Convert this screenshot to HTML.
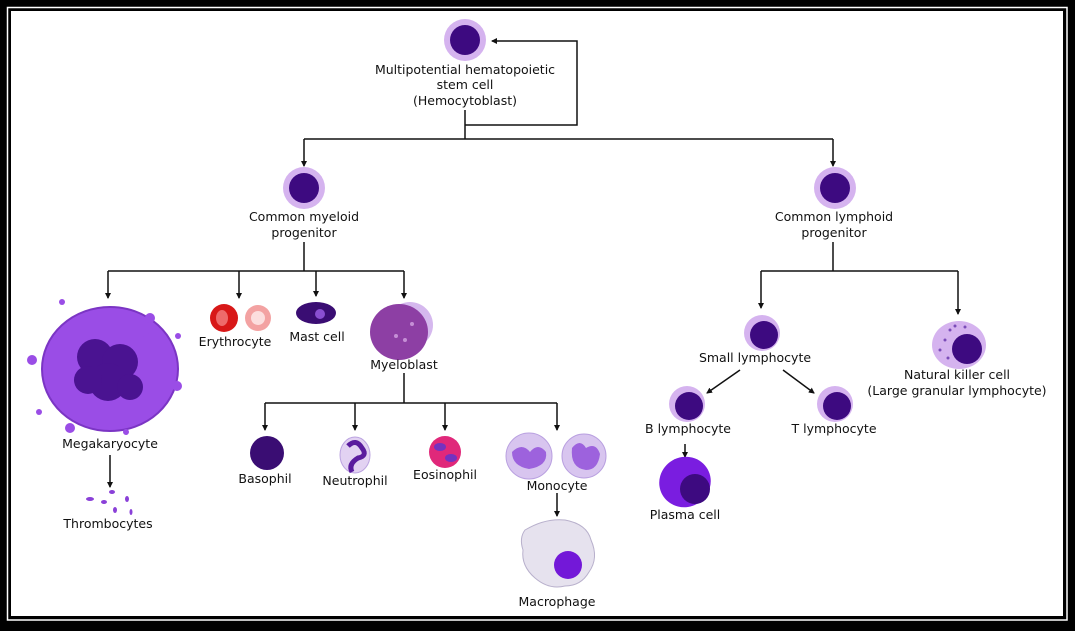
<!DOCTYPE html>
<html><head><meta charset="utf-8"><style>
html,body{margin:0;padding:0;background:#000;}
svg{display:block}
text{font-family:"DejaVu Sans","Liberation Sans",sans-serif;font-size:12.5px;fill:#111;text-anchor:middle}
</style></head><body>
<svg width="1075" height="631" viewBox="0 0 1075 631" xmlns="http://www.w3.org/2000/svg">
<defs>
<marker id="a" markerWidth="6" markerHeight="6" refX="5" refY="3" orient="auto" markerUnits="userSpaceOnUse"><path d="M0,0 L6,3 L0,6 z" fill="#111"/></marker>
</defs>
<rect x="0" y="0" width="1075" height="631" fill="#000"/>
<rect x="7.5" y="7.5" width="1059.5" height="612.5" fill="none" stroke="#fff" stroke-width="1.5"/>
<rect x="11" y="11" width="1052" height="605" fill="#fff"/>
<g stroke="#111" stroke-width="1.5" fill="none">
<path d="M465,110 V139 M304,139 H833"/>
<path d="M465,125 H577 V41 H492" marker-end="url(#a)"/>
<path d="M304,139 V166" marker-end="url(#a)"/>
<path d="M833,139 V166" marker-end="url(#a)"/>
<path d="M304,242 V271 M108,271 H404"/>
<path d="M108,271 V298" marker-end="url(#a)"/>
<path d="M239,271 V298" marker-end="url(#a)"/>
<path d="M316,271 V296" marker-end="url(#a)"/>
<path d="M404,271 V298" marker-end="url(#a)"/>
<path d="M110,455 V487" marker-end="url(#a)"/>
<path d="M404,373 V403 M265,403 H557"/>
<path d="M265,403 V430" marker-end="url(#a)"/>
<path d="M355,403 V430" marker-end="url(#a)"/>
<path d="M445,403 V430" marker-end="url(#a)"/>
<path d="M557,403 V430" marker-end="url(#a)"/>
<path d="M557,493 V516" marker-end="url(#a)"/>
<path d="M833,242 V271 M761,271 H958"/>
<path d="M761,271 V308" marker-end="url(#a)"/>
<path d="M958,271 V314" marker-end="url(#a)"/>
<path d="M740,370 L707,393" marker-end="url(#a)"/>
<path d="M783,370 L814,393" marker-end="url(#a)"/>
<path d="M685,444 V457" marker-end="url(#a)"/>
</g>
<circle cx="465" cy="40" r="21" fill="#d5b3ef"/><circle cx="465" cy="40" r="15" fill="#3d0a80"/>
<text x="465" y="74">Multipotential hematopoietic</text><text x="465" y="89">stem cell</text><text x="465" y="105">(Hemocytoblast)</text>
<circle cx="304" cy="188" r="21" fill="#d5b3ef"/><circle cx="304" cy="188" r="15" fill="#3d0a80"/>
<text x="304" y="221">Common myeloid</text><text x="304" y="237">progenitor</text>
<circle cx="835" cy="188" r="21" fill="#d5b3ef"/><circle cx="835" cy="188" r="15" fill="#3d0a80"/>
<text x="834" y="221">Common lymphoid</text><text x="834" y="237">progenitor</text>
<ellipse cx="110" cy="369" rx="68" ry="62" fill="#9a4de6" stroke="#7b35c4" stroke-width="2"/>
<g fill="#9a4de6"><circle cx="62" cy="302" r="3"/><circle cx="146" cy="335" r="3"/><circle cx="178" cy="336" r="3"/><circle cx="39" cy="412" r="3"/><circle cx="126" cy="432" r="3"/><circle cx="177" cy="386" r="5"/><circle cx="150" cy="318" r="5"/><circle cx="32" cy="360" r="5"/><circle cx="70" cy="428" r="5"/></g>
<g fill="#4a1391"><circle cx="95" cy="357" r="18"/><circle cx="120" cy="362" r="18"/><circle cx="108" cy="382" r="19"/><circle cx="88" cy="380" r="14"/><circle cx="130" cy="387" r="13"/></g>
<text x="110" y="448">Megakaryocyte</text>
<g fill="#8a40d8"><ellipse cx="90" cy="499" rx="4" ry="2"/><ellipse cx="104" cy="502" rx="3" ry="2"/><ellipse cx="112" cy="492" rx="3" ry="2"/><ellipse cx="127" cy="499" rx="2" ry="3"/><ellipse cx="115" cy="510" rx="2" ry="3"/><ellipse cx="131" cy="512" rx="1.5" ry="3"/></g>
<text x="108" y="528">Thrombocytes</text>
<circle cx="224" cy="318" r="14" fill="#d81818"/><ellipse cx="222" cy="318" rx="6" ry="8" fill="#ee6b6b"/>
<circle cx="258" cy="318" r="13" fill="#f3a2a2"/><circle cx="258" cy="318" r="7" fill="#fcdede"/>
<text x="235" y="346">Erythrocyte</text>
<ellipse cx="316" cy="313" rx="20" ry="11" fill="#3a0d73"/><circle cx="320" cy="314" r="5" fill="#8a4fd1"/>
<text x="317" y="341">Mast cell</text>
<circle cx="410" cy="325" r="23" fill="#d5b8ee"/>
<ellipse cx="399" cy="332" rx="29" ry="28" fill="#8d3fa4"/>
<g fill="#c58fd6"><circle cx="396" cy="336" r="2"/><circle cx="405" cy="340" r="2"/><circle cx="412" cy="324" r="2"/></g>
<text x="404" y="369">Myeloblast</text>
<circle cx="267" cy="453" r="17" fill="#3a0d73"/>
<text x="265" y="483">Basophil</text>
<ellipse cx="355" cy="455" rx="15" ry="18" fill="#e2d2f2" stroke="#bba3e0"/><path d="M348,446 q8,-8 14,2 q6,8 -4,10 q-10,6 -6,14" stroke="#5a1c9e" stroke-width="5" fill="none"/>
<text x="355" y="485">Neutrophil</text>
<circle cx="445" cy="452" r="16" fill="#e0287a"/><ellipse cx="440" cy="447" rx="6" ry="4" fill="#7432c0"/><ellipse cx="451" cy="458" rx="6" ry="4" fill="#7432c0"/>
<text x="445" y="479">Eosinophil</text>
<circle cx="529" cy="456" r="23" fill="#d8c5ef" stroke="#b9a0e0"/><path d="M512,452 q10,-10 18,0 q8,-10 16,0 q2,14 -17,17 q-17,-3 -17,-17z" fill="#9d62dd"/>
<circle cx="584" cy="456" r="22" fill="#d8c5ef" stroke="#b9a0e0"/><path d="M572,448 q8,-10 14,0 q10,-6 14,6 q-2,16 -14,16 q-16,-2 -14,-22z" fill="#9d62dd"/>
<text x="557" y="490">Monocyte</text>
<path d="M525,530 q20,-12 40,-10 q22,4 26,20 q8,18 -2,32 q-8,14 -24,14 q-16,4 -30,-8 q-14,-12 -12,-28 q-4,-12 2,-20z" fill="#e6e2ee" stroke="#b8b0cc"/>
<circle cx="568" cy="565" r="14" fill="#7318d8"/>
<text x="557" y="606">Macrophage</text>
<circle cx="762" cy="333" r="18" fill="#d5b3ef"/><circle cx="764" cy="335" r="14" fill="#3d0a80"/>
<text x="755" y="362">Small lymphocyte</text>
<circle cx="687" cy="404" r="18" fill="#d5b3ef"/><circle cx="689" cy="406" r="14" fill="#3d0a80"/>
<text x="688" y="433">B lymphocyte</text>
<circle cx="835" cy="404" r="18" fill="#d5b3ef"/><circle cx="837" cy="406" r="14" fill="#3d0a80"/>
<text x="834" y="433">T lymphocyte</text>
<ellipse cx="685" cy="482" rx="26" ry="25" fill="#7a1de0" transform="rotate(-30 685 482)"/><circle cx="695" cy="489" r="15" fill="#3d0a80"/>
<text x="685" y="519">Plasma cell</text>
<ellipse cx="959" cy="345" rx="27" ry="24" fill="#d5b3ef"/><circle cx="967" cy="349" r="15" fill="#3d0a80"/>
<g fill="#7a4cb8"><circle cx="945" cy="340" r="1.5"/><circle cx="950" cy="330" r="1.5"/><circle cx="940" cy="350" r="1.5"/><circle cx="955" cy="326" r="1.5"/><circle cx="965" cy="327" r="1.5"/><circle cx="948" cy="358" r="1.5"/></g>
<text x="957" y="379">Natural killer cell</text><text x="957" y="395">(Large granular lymphocyte)</text>
</svg>
</body></html>
